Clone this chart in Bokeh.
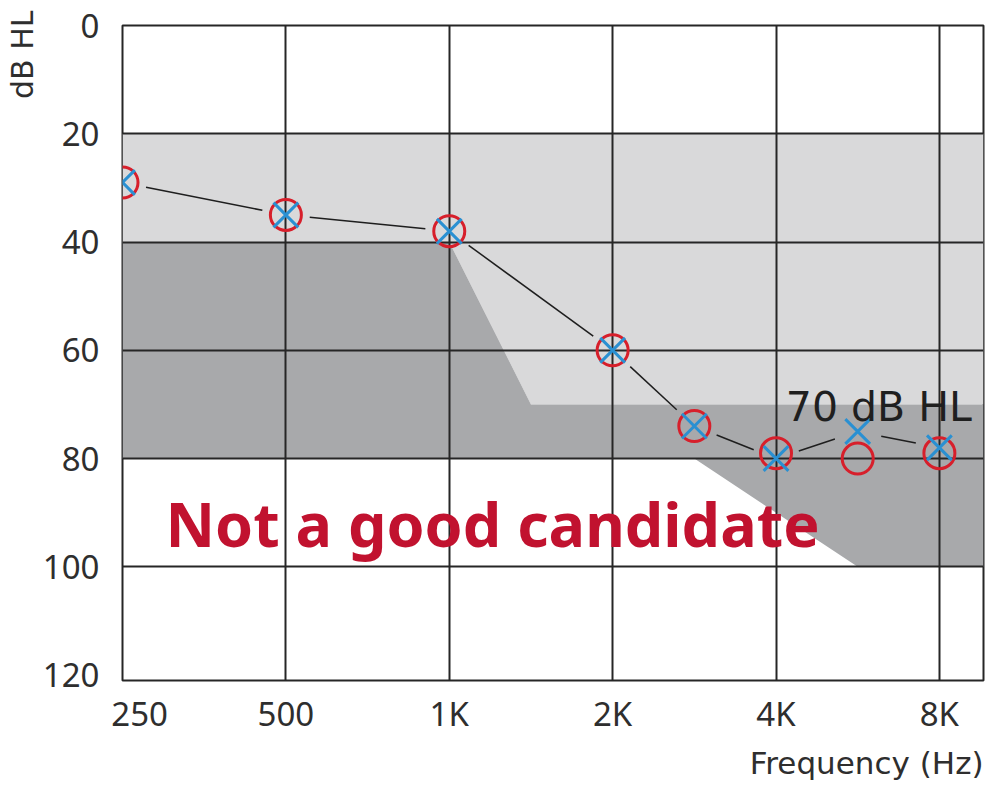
import numpy as np
from bokeh.plotting import figure
from bokeh.models import Range1d, FixedTicker, Label, Title
from bokeh.embed import file_html
from bokeh.resources import INLINE

# ---------------- data ----------------
freq_labels = ["250", "500", "1K", "2K", "3K", "4K", "6K", "8K"]
octave_pos = [0, 1, 2, 3, 3.5, 4, 4.5, 5]          # audiogram column (250 Hz = 0, one per octave)
right_ear_o = [29, 35, 38, 60, 74, 79, 80, 79]     # red circles (dB HL)
left_ear_x = [29, 35, 38, 60, 74, 80, 75, 78]      # blue crosses (dB HL)

axis_freq_labels = ["250", "500", "1K", "2K", "4K", "8K"]
axis_freq_pos = [0, 1, 2, 3, 4, 5]
db_ticks = [0, 20, 40, 60, 80, 100, 120]
db_grid = [20, 40, 60, 80, 100]

X_END = 5.27   # right edge of the audiogram (just past 8K)
Y_END = 121

# candidacy zones (octave position, dB HL)
light_zone_x = [0, X_END, X_END, 2.5, 2, 0]
light_zone_y = [20, 20, 70, 70, 40, 40]
dark_zone_x = [0, 2, 2.5, X_END, X_END, 4.5, 3.5, 0]
dark_zone_y = [40, 40, 70, 70, 100, 100, 80, 80]

# ---------------- figure ----------------
FW, FH = 861, 655
ML, MR, MT, MB = 122, 7, 25, 104
p = figure(frame_width=FW, frame_height=FH, output_backend="svg", toolbar_location=None,
           x_range=Range1d(0, X_END), y_range=Range1d(Y_END, 0),
           min_border_left=ML, min_border_right=MR, min_border_top=MT, min_border_bottom=MB)
p.background_fill_color = "white"
p.border_fill_color = "white"
p.outline_line_color = "#262626"
p.outline_line_width = 2

# zones
r1 = p.patch(light_zone_x, light_zone_y, fill_color="#d9d9da", line_color=None)
r1.level = "image"
r2 = p.patch(dark_zone_x, dark_zone_y, fill_color="#a8a9ab", line_color=None)
r2.level = "image"

# grid
p.xgrid.ticker = FixedTicker(ticks=axis_freq_pos)
p.ygrid.ticker = FixedTicker(ticks=db_grid)
for g in (p.xgrid, p.ygrid):
    g.grid_line_color = "#262626"
    g.grid_line_width = 2
    g.grid_line_alpha = 1.0

# axes
p.xaxis.ticker = FixedTicker(ticks=axis_freq_pos)
overrides = {pos: lab for pos, lab in zip(axis_freq_pos, axis_freq_labels)}
overrides[0] = "\u00a0" * 4 + axis_freq_labels[0]
p.xaxis.major_label_overrides = overrides
p.yaxis.ticker = FixedTicker(ticks=db_ticks)
for ax in (p.xaxis, p.yaxis):
    ax.axis_line_color = None
    ax.major_tick_line_color = None
    ax.minor_tick_line_color = None
    ax.major_label_text_font = "Noto Sans"
    ax.major_label_text_font_size = "33px"
    ax.major_label_text_color = "#2e2e2e"
p.xaxis.major_label_standoff = 4
p.yaxis.major_label_standoff = 17

# axis titles as side titles (not clipped by the frame)
p.add_layout(Title(text="Frequency (Hz)", align="right", text_font="DejaVu Sans",
                   text_font_size="31px", text_font_style="normal", text_color="#2e2e2e",
                   standoff=8, offset=0), "below")
p.add_layout(Title(text="dB HL", align="right", text_font="DejaVu Sans",
                   text_font_size="30px", text_font_style="normal", text_color="#2e2e2e",
                   standoff=0, offset=-15), "left")

# connecting line (with gaps around markers)
px_per_oct = FW / X_END
px_per_db = FH / Y_END
xs = np.array(octave_pos, dtype=float)
ys = np.array(left_ear_x, dtype=float)
dxp = np.diff(xs) * px_per_oct
dyp = np.diff(ys) * px_per_db
L = np.hypot(dxp, dyp)
trim = 24.0
ux, uy = dxp / L, dyp / L
x0 = xs[:-1] + ux * trim / px_per_oct
y0 = ys[:-1] + uy * trim / px_per_db
x1 = xs[1:] - ux * trim / px_per_oct
y1 = ys[1:] - uy * trim / px_per_db
p.segment(x0, y0, x1, y1, line_color="#1e1e1e", line_width=1.5)

# markers
p.scatter(octave_pos, right_ear_o, marker="circle", size=31, fill_color=None,
          line_color="#d71f2b", line_width=3)
p.scatter(octave_pos, left_ear_x, marker="x", size=35, line_color="#2a90d2", line_width=3)

# texts inside the chart
p.add_layout(Label(x=0.263, y=92.0, text="Not a good candidate", text_font="Noto Sans",
                   text_font_style="bold", text_font_size="61px", text_color="#c1122f",
                   text_baseline="alphabetic", text_align="left"))
p.add_layout(Label(x=4.06, y=70.4, text="70 dB HL", text_font="DejaVu Sans",
                   text_font_size="41px", text_color="#1f1f1f",
                   text_baseline="alphabetic", text_align="left"))

open("out.html", "w").write(file_html(p, INLINE))
